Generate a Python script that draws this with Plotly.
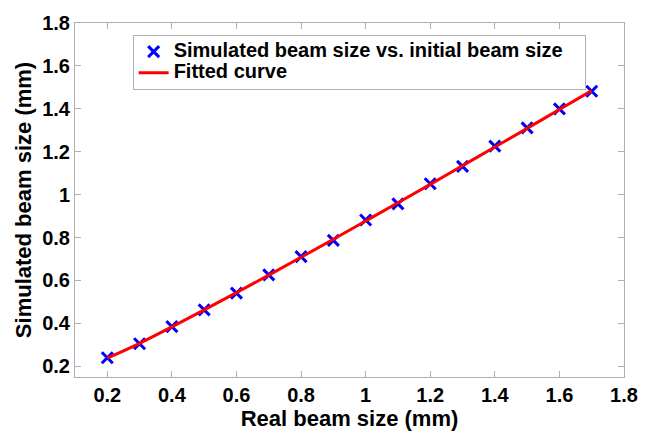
import plotly.graph_objects as go

# Real (initial) beam size in mm
real_size = [0.2, 0.3, 0.4, 0.5, 0.6, 0.7, 0.8, 0.9, 1.0, 1.1, 1.2, 1.3, 1.4, 1.5, 1.6, 1.7]
# Simulated beam size in mm
simulated_size = [0.240, 0.305, 0.385, 0.463, 0.541, 0.626, 0.711, 0.787,
                  0.882, 0.957, 1.051, 1.132, 1.226, 1.311, 1.400, 1.482]
# Fitted curve evaluated at the same real beam sizes
fitted_size = [0.238, 0.307, 0.384, 0.463, 0.543, 0.625, 0.708, 0.792,
               0.877, 0.962, 1.048, 1.135, 1.222, 1.309, 1.397, 1.485]

tick_vals = [0.2, 0.4, 0.6, 0.8, 1.0, 1.2, 1.4, 1.6, 1.8]
tick_text = ["0.2", "0.4", "0.6", "0.8", "1", "1.2", "1.4", "1.6", "1.8"]

FONT = "Arial, 'Liberation Sans', sans-serif"
AXIS_GRAY = "#b0b0b0"


def legend_label(text):
    # large bold label inside a compact legend row
    return f'<span style="font-size:20px"><b>{text}</b></span>'


fig = go.Figure()

fig.add_trace(go.Scatter(
    x=real_size, y=simulated_size,
    mode="markers",
    name=legend_label("Simulated beam size vs. initial beam size\u00a0\u00a0\u00a0"),
    marker=dict(symbol="x-thin", size=11, color="#0000ff",
                line=dict(color="#0000ff", width=3)),
))

fig.add_trace(go.Scatter(
    x=real_size, y=fitted_size,
    mode="lines",
    name=legend_label("Fitted curve"),
    line=dict(color="#ff0000", width=3, shape="spline"),
))

axis_common = dict(
    showline=True, linecolor=AXIS_GRAY, linewidth=1, mirror="ticks",
    ticks="inside", ticklen=6, tickcolor=AXIS_GRAY, tickwidth=1,
    showgrid=False, zeroline=False,
    tickfont=dict(family=FONT, size=20, color="black", weight="bold"),
)

fig.update_xaxes(
    range=[0.1, 1.8], tickvals=tick_vals, ticktext=tick_text,
    title=dict(text="<b>Real beam size (mm)</b>", standoff=2,
               font=dict(family=FONT, size=22, color="black")),
    **axis_common,
)
fig.update_yaxes(
    range=[0.15, 1.8], tickvals=tick_vals, ticktext=tick_text,
    title=dict(text="<b>Simulated beam size (mm)</b>", standoff=4,
               font=dict(family=FONT, size=22, color="black")),
    **axis_common,
)

fig.update_layout(
    width=650, height=435,
    margin=dict(l=75, r=16, t=15, b=52),
    paper_bgcolor="white", plot_bgcolor="white",
    font=dict(family=FONT, color="black"),
    legend=dict(
        x=0.105, y=0.966, xanchor="left", yanchor="top",
        bgcolor="white", bordercolor=AXIS_GRAY, borderwidth=1,
        font=dict(family=FONT, size=14, color="black"),
        tracegroupgap=0,
    ),
)

fig.write_html("out.html")
